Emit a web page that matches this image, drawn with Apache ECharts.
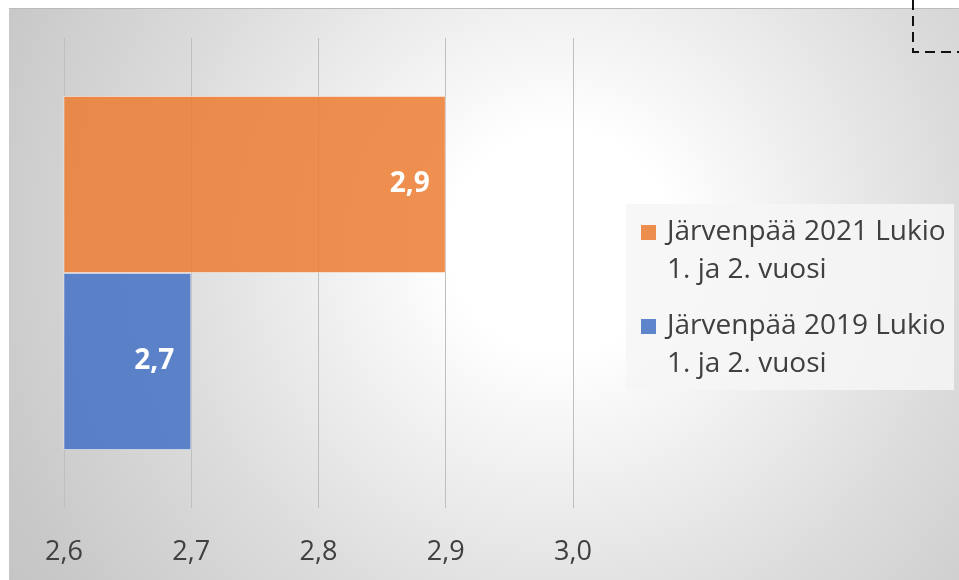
<!DOCTYPE html>
<html>
<head>
<meta charset="utf-8">
<script src="https://cdn.jsdelivr.net/npm/echarts@6/dist/echarts.min.js"></script>
<style>
  html, body { margin: 0; padding: 0; background: #fff; }
  #bg {
    position: absolute; left: 9px; top: 8px; width: 950px; height: 572px;
    border-top: 1px solid #bbbbbb;
    background: radial-gradient(circle at 551px 232px, #ffffff 0px, #ffffff 110px, #dcdcdc 400px, #c8c8c8 600px, #bdbdbd 800px);
  }
  #chart { position: absolute; left: 0; top: 0; width: 959px; height: 580px; }
</style>
</head>
<body>
<div id="bg"></div>
<div id="chart"></div>
<script>
  const categories = ["Lukio 1. ja 2. vuosi"];
  const seriesNames = [
    "Järvenpää 2021 Lukio 1. ja 2. vuosi",
    "Järvenpää 2019 Lukio 1. ja 2. vuosi",
  ];
  const values2021 = [2.9];
  const values2019 = [2.7];
  const xTicks = { min: 2.6, max: 3.0, interval: 0.1 };

  const fmt = (v) => v.toFixed(1).replace(".", ",");
  const fontFamily = "'Open Sans', sans-serif";

  const myChart = echarts.init(document.getElementById("chart"), null, {
    renderer: "canvas",
  });

  function barSeries(name, data, color, dist) {
    return {
      name: name,
      type: "bar",
      data: data,
      barWidth: 177,
      barGap: "0%",
      itemStyle: {
        color: color,
        borderColor: "rgba(255,255,255,0.45)",
        borderWidth: 1,
      },
      label: {
        show: true,
        position: "insideRight",
        distance: dist,
        formatter: (p) => fmt(p.value),
        color: "#ffffff",
        fontFamily: fontFamily,
        fontWeight: "bold",
        fontSize: 28,
      },
      emphasis: { disabled: true },
    };
  }

  const option = {
    animation: false,
    backgroundColor: "transparent",
    grid: {
      left: 64,
      right: 386,
      top: 38,
      bottom: 72,
      containLabel: false,
      outerBoundsMode: "none",
    },
    xAxis: {
      type: "value",
      min: xTicks.min,
      max: xTicks.max,
      interval: xTicks.interval,
      axisLine: { show: false },
      axisTick: { show: false },
      splitLine: { show: true, lineStyle: { color: "#bfbfbf", width: 1 } },
      axisLabel: {
        formatter: (v) => fmt(v),
        color: "#404040",
        fontFamily: fontFamily,
        fontSize: 27,
        margin: 31,
      },
    },
    yAxis: {
      type: "category",
      data: categories,
      show: false,
    },
    legend: {
      data: seriesNames,
      orient: "vertical",
      left: 626,
      top: 204,
      padding: [9, 3, 7, 15],
      itemGap: 18,
      itemWidth: 15,
      itemHeight: 52,
      icon: "path://M0,0L15,0L15,15L0,15ZM0,52L0.01,52",
      itemStyle: { borderWidth: 0 },
      backgroundColor: "rgba(246,246,246,0.85)",
      selectedMode: false,
      formatter: (name) => name.replace(" 1.", "\n1."),
      textStyle: {
        color: "#404040",
        fontFamily: fontFamily,
        fontSize: 28,
        lineHeight: 38,
        width: 284,
        padding: [0, 0, 0, 6],
      },
    },
    graphic: [
      {
        type: "polyline",
        shape: { points: [[913, 0], [913, 52], [959, 52]] },
        style: { stroke: "#111111", lineWidth: 2, lineDash: [10, 6], fill: null },
        silent: true,
      },
    ],
    series: [
      barSeries(seriesNames[0], values2021, "rgba(237,125,49,0.85)", 16),
      barSeries(seriesNames[1], values2019, "rgba(68,114,196,0.85)", 17),
    ],
  };

  myChart.setOption(option);
  window.addEventListener("resize", () => myChart.resize());
</script>
</body>
</html>
